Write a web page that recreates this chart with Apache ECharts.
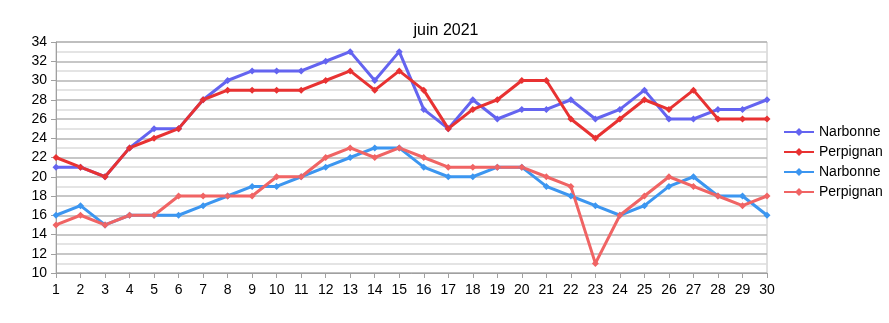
<!DOCTYPE html>
<html>
<head>
<meta charset="utf-8">
<script src="https://cdn.jsdelivr.net/npm/echarts@6/dist/echarts.min.js"></script>
<style>
  html, body { margin: 0; padding: 0; background: #fff; }
  #chart { width: 889px; height: 323px; }
</style>
</head>
<body>
<div id="chart"></div>
<script>
// Days of June 2021
const days = Array.from({ length: 30 }, (_, i) => String(i + 1));

// Daily maximum temperatures (°C)
const narbonneMax = [21, 21, 20, 23, 25, 25, 28, 30, 31, 31, 31, 32, 33, 30, 33, 27, 25, 28, 26, 27, 27, 28, 26, 27, 29, 26, 26, 27, 27, 28];
const perpignanMax = [22, 21, 20, 23, 24, 25, 28, 29, 29, 29, 29, 30, 31, 29, 31, 29, 25, 27, 28, 30, 30, 26, 24, 26, 28, 27, 29, 26, 26, 26];

// Daily minimum temperatures (°C)
const narbonneMin = [16, 17, 15, 16, 16, 16, 17, 18, 19, 19, 20, 21, 22, 23, 23, 21, 20, 20, 21, 21, 19, 18, 17, 16, 17, 19, 20, 18, 18, 16];
const perpignanMin = [15, 16, 15, 16, 16, 18, 18, 18, 18, 20, 20, 22, 23, 22, 23, 22, 21, 21, 21, 21, 20, 19, 11, 16, 18, 20, 19, 18, 17, 18];

const seriesDefs = [
  { name: 'Narbonne', data: narbonneMax, color: '#6464f0' },
  { name: 'Perpignan', data: perpignanMax, color: '#e83232' },
  { name: 'Narbonne ', data: narbonneMin, color: '#3c96f0' },
  { name: 'Perpignan ', data: perpignanMin, color: '#f06464' }
];

const font = 'Liberation Sans, Arial, sans-serif';

const chart = echarts.init(document.getElementById('chart'), null, { renderer: 'canvas' });
chart.setOption({
  animation: false,
  backgroundColor: '#ffffff',
  title: {
    text: 'juin 2021',
    left: 441,
    top: 18,
    textAlign: 'center',
    textStyle: { fontFamily: font, fontSize: 16, fontWeight: 'normal', color: '#000' }
  },
  legend: {
    orient: 'vertical',
    left: 778,
    top: 120,
    itemWidth: 30,
    itemHeight: 10,
    itemGap: 6,
    data: seriesDefs.map(s => s.name),
    formatter: n => n.trim(),
    textStyle: { fontFamily: font, fontSize: 14, color: '#000' }
  },
  grid: { left: 56, right: 122, top: 42, bottom: 50, show: true, borderColor: '#c0c0c0', borderWidth: 1 },
  xAxis: {
    type: 'category',
    data: days,
    boundaryGap: false,
    axisLine: { lineStyle: { color: '#a0a0a0', width: 1 } },
    axisTick: { show: true, length: 5, alignWithLabel: true, lineStyle: { color: '#a0a0a0' } },
    axisLabel: { fontFamily: font, fontSize: 14, color: '#000', margin: 10 },
    splitLine: { show: false }
  },
  yAxis: {
    type: 'value',
    min: 10,
    max: 34,
    interval: 2,
    axisLine: { show: true, lineStyle: { color: '#a0a0a0', width: 1 } },
    axisTick: { show: true, length: 5, lineStyle: { color: '#a0a0a0' } },
    minorTick: { show: true, splitNumber: 2, length: 0 },
    axisLabel: { fontFamily: font, fontSize: 14, color: '#000', margin: 9 },
    splitLine: { show: true, lineStyle: { color: '#b4b4b4', width: 1.5 } },
    minorSplitLine: { show: true, lineStyle: { color: '#dcdcdc', width: 1.5 } }
  },
  series: seriesDefs.map(s => ({
    name: s.name,
    type: 'line',
    data: s.data,
    color: s.color,
    symbol: 'diamond',
    symbolSize: 7,
    showSymbol: true,
    lineStyle: { width: 3, color: s.color },
    itemStyle: { color: s.color }
  }))
});
</script>
</body>
</html>
